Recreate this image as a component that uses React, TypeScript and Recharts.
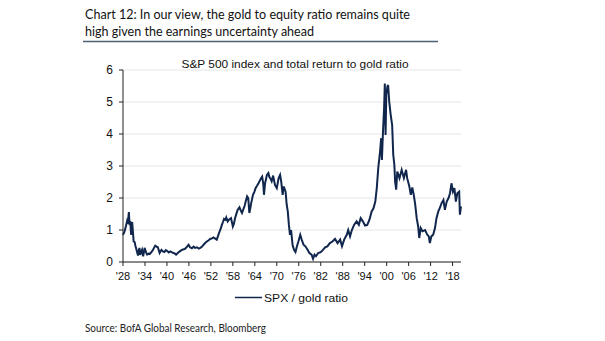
import React from "react";
import { LineChart, Line, XAxis, YAxis, CartesianGrid } from "recharts";

const years: number[] = [
  1928.0, 1928.4, 1928.8, 1929.1, 1929.3, 1929.6, 1929.8, 1930.0, 1930.2, 1930.5, 1930.7, 1930.9,
  1931.2, 1931.4, 1931.6, 1931.8, 1932.1, 1932.3, 1932.5, 1932.7, 1932.9, 1933.2, 1933.5, 1933.7,
  1933.9, 1934.3, 1934.6, 1935.0, 1935.3, 1935.8, 1936.2, 1936.5, 1936.8, 1937.2, 1937.5, 1937.8,
  1938.0, 1938.5, 1938.9, 1939.3, 1939.7, 1940.0, 1940.5, 1940.9, 1941.4, 1941.8, 1942.2, 1942.5,
  1942.9, 1943.1, 1943.6, 1944.1, 1944.6, 1945.0, 1945.5, 1945.9, 1946.3, 1946.8, 1947.3, 1947.7,
  1948.2, 1948.7, 1949.1, 1949.6, 1950.0, 1950.5, 1950.9, 1951.4, 1951.8, 1952.3, 1952.7, 1953.2,
  1953.6, 1954.0, 1954.4, 1954.8, 1955.0, 1955.3, 1955.6, 1956.0, 1956.2, 1956.6, 1957.0, 1957.5,
  1958.0, 1958.3, 1958.6, 1959.0, 1959.3, 1959.8, 1960.2, 1960.5, 1960.9, 1961.2, 1961.5, 1961.9,
  1962.2, 1962.5, 1962.8, 1963.0, 1963.5, 1963.9, 1964.2, 1964.6, 1965.0, 1965.4, 1965.7, 1966.0,
  1966.3, 1966.5, 1966.8, 1967.3, 1967.7, 1968.0, 1968.2, 1968.6, 1969.0, 1969.5, 1970.0, 1970.5,
  1970.9, 1971.2, 1971.6, 1971.9, 1972.4, 1972.7, 1973.0, 1973.3, 1973.6, 1973.9, 1974.3, 1974.7,
  1975.1, 1975.5, 1975.9, 1976.4, 1976.8, 1977.3, 1977.8, 1978.4, 1978.9, 1979.5, 1979.9, 1980.3,
  1980.7, 1981.3, 1982.0, 1982.6, 1983.2, 1983.8, 1984.5, 1985.2, 1985.9, 1986.6, 1987.3, 1987.8,
  1988.4, 1989.1, 1989.5, 1990.0, 1990.5, 1991.1, 1991.8, 1992.4, 1992.9, 1993.5, 1994.1, 1994.7,
  1995.3, 1995.9, 1996.4, 1996.9, 1997.3, 1997.7, 1998.2, 1998.5, 1998.7, 1999.0, 1999.3, 1999.5,
  1999.7, 1999.9, 2000.2, 2000.4, 2000.7, 2001.1, 2001.5, 2001.8, 2002.1, 2002.3, 2002.6, 2002.9,
  2003.5, 2004.1, 2004.7, 2005.3, 2005.6, 2006.2, 2006.6, 2007.0, 2007.4, 2007.8, 2008.2, 2008.6,
  2008.9, 2009.3, 2009.8, 2010.5, 2011.1, 2011.5, 2011.8, 2012.2, 2012.7, 2013.2, 2013.6, 2014.1,
  2014.5, 2015.0, 2015.5, 2015.9, 2016.4, 2016.9, 2017.3, 2017.7, 2018.1, 2018.5, 2018.9, 2019.3,
  2019.8, 2020.0, 2020.3,
];

const spxGoldRatio: number[] = [
  0.85, 0.95, 1.12, 1.27, 1.2, 1.56, 1.15, 1.28, 0.85, 1.25, 0.95, 0.65,
  0.62, 0.5, 0.42, 0.33, 0.2, 0.36, 0.44, 0.22, 0.3, 0.38, 0.18, 0.3,
  0.44, 0.3, 0.23, 0.26, 0.25, 0.32, 0.38, 0.45, 0.51, 0.48, 0.46, 0.36,
  0.28, 0.38, 0.33, 0.31, 0.37, 0.35, 0.3, 0.33, 0.3, 0.28, 0.26, 0.23,
  0.27, 0.3, 0.34, 0.38, 0.4, 0.42, 0.48, 0.54, 0.46, 0.43, 0.48, 0.44,
  0.46, 0.42, 0.44, 0.48, 0.54, 0.6, 0.64, 0.68, 0.72, 0.74, 0.77, 0.73,
  0.7, 0.83, 0.96, 1.08, 1.16, 1.25, 1.35, 1.32, 1.39, 1.27, 1.33, 1.37,
  1.11, 1.2, 1.37, 1.52, 1.63, 1.71, 1.6, 1.53, 1.66, 1.75, 1.89, 2.05,
  2.0, 1.53, 1.7, 1.84, 2.1, 2.2, 2.31, 2.38, 2.46, 2.55, 2.62, 2.67,
  2.45, 2.1, 2.46, 2.72, 2.78, 2.65, 2.62, 2.52, 2.7, 2.41, 2.31, 2.62,
  2.72, 2.52, 2.1, 2.36, 2.2, 1.79, 1.58, 1.16, 0.85, 1.0, 0.54, 0.38,
  0.31, 0.49, 0.64, 0.85, 0.7, 0.54, 0.49, 0.38, 0.28, 0.23, 0.1, 0.23,
  0.18, 0.28, 0.31, 0.38, 0.46, 0.49, 0.59, 0.64, 0.72, 0.59, 0.7, 0.49,
  0.7, 0.85, 1.0, 0.8, 1.0, 1.16, 1.27, 1.16, 1.37, 1.27, 1.14, 1.16,
  1.32, 1.58, 1.68, 1.89, 2.31, 2.93, 3.45, 3.87, 3.19, 4.08, 4.8, 5.58,
  3.97, 5.22, 5.48, 5.53, 5.01, 4.6, 4.28, 3.35, 3.04, 2.52, 2.26, 2.83,
  2.62, 2.88, 2.62, 2.88, 2.62, 2.36, 2.1, 2.33, 2.1, 1.79, 1.37, 1.11,
  0.75, 1.06, 0.96, 1.0, 0.85, 0.8, 0.59, 0.8, 0.85, 1.06, 1.37, 1.58,
  1.68, 1.84, 1.94, 1.63, 1.89, 2.0, 2.15, 2.46, 2.2, 2.31, 1.89, 2.15,
  2.2, 1.48, 1.74,
];

const xTicks: number[] = [1928, 1934, 1940, 1946, 1952, 1958, 1964, 1970, 1976, 1982, 1988, 1994, 2000, 2006, 2012, 2018];
const yTicks: number[] = [0, 1, 2, 3, 4, 5, 6];

const titleLines: string[] = [
  "Chart 12: In our view, the gold to equity ratio remains quite",
  "high given the earnings uncertainty ahead",
];
const subtitle = "S&P 500 index and total return to gold ratio";
const legendLabel = "SPX / gold ratio";
const sourceText = "Source: BofA Global Research, Bloomberg";

const data = years.map((y, i) => ({ year: y, ratio: spxGoldRatio[i] }));

const axisFont = "'Liberation Sans', Arial, sans-serif";
const titleFont = "Lato, 'Noto Sans', sans-serif";
const lineColor = "#10264d";

export default function App() {
  return (
    <div style={{ position: "absolute", left: 0, top: 0, width: 605, height: 341, background: "#fff" }}>
      <LineChart
        width={605}
        height={341}
        data={data}
        margin={{ top: 70, right: 144, bottom: 49, left: 0 }}
      >
        <CartesianGrid horizontal vertical={false} stroke="#e6e6e6" />
        <XAxis
          dataKey="year"
          type="number"
          domain={[1928, 2020.3]}
          ticks={xTicks}
          interval={0}
          height={30}
          tickSize={4}
          tickMargin={6}
          axisLine={{ stroke: "#222" }}
          tickLine={{ stroke: "#222" }}
          tick={{ fill: "#111", fontSize: 11, fontFamily: axisFont }}
          tickFormatter={(v: number) => "'" + String(v % 100).padStart(2, "0")}
        />
        <YAxis
          type="number"
          domain={[0, 6]}
          ticks={yTicks}
          interval={0}
          width={123}
          tickSize={4}
          tickMargin={6}
          axisLine={{ stroke: "#222" }}
          tickLine={{ stroke: "#222" }}
          tick={{ fill: "#111", fontSize: 12, fontFamily: axisFont }}
        />
        <Line
          type="linear"
          dataKey="ratio"
          stroke={lineColor}
          strokeWidth={2}
          dot={false}
          isAnimationActive={false}
        />
      </LineChart>
      <svg
        width={605}
        height={341}
        style={{ position: "absolute", left: 0, top: 0, pointerEvents: "none" }}
      >
        <text x={85} y={19} fontFamily={titleFont} fontSize={14} fill="#111" textLength={325} lengthAdjust="spacingAndGlyphs">
          {titleLines[0]}
        </text>
        <text x={85} y={36} fontFamily={titleFont} fontSize={14} fill="#111" textLength={229} lengthAdjust="spacingAndGlyphs">
          {titleLines[1]}
        </text>
        <line x1={83} x2={438} y1={41.5} y2={41.5} stroke="#4d5f72" strokeWidth={1.5} />
        <text x={295} y={68} textAnchor="middle" fontFamily={axisFont} fontSize={11.5} fill="#111" textLength={227} lengthAdjust="spacingAndGlyphs">
          {subtitle}
        </text>
        <line x1={235} x2={262} y1={297.5} y2={297.5} stroke={lineColor} strokeWidth={1.5} />
        <text x={264} y={301.5} fontFamily={axisFont} fontSize={11.5} fill="#111" textLength={84} lengthAdjust="spacingAndGlyphs">
          {legendLabel}
        </text>
        <text x={85} y={332} fontFamily={titleFont} fontSize={12} fill="#222" textLength={181} lengthAdjust="spacingAndGlyphs">
          {sourceText}
        </text>
      </svg>
    </div>
  );
}
